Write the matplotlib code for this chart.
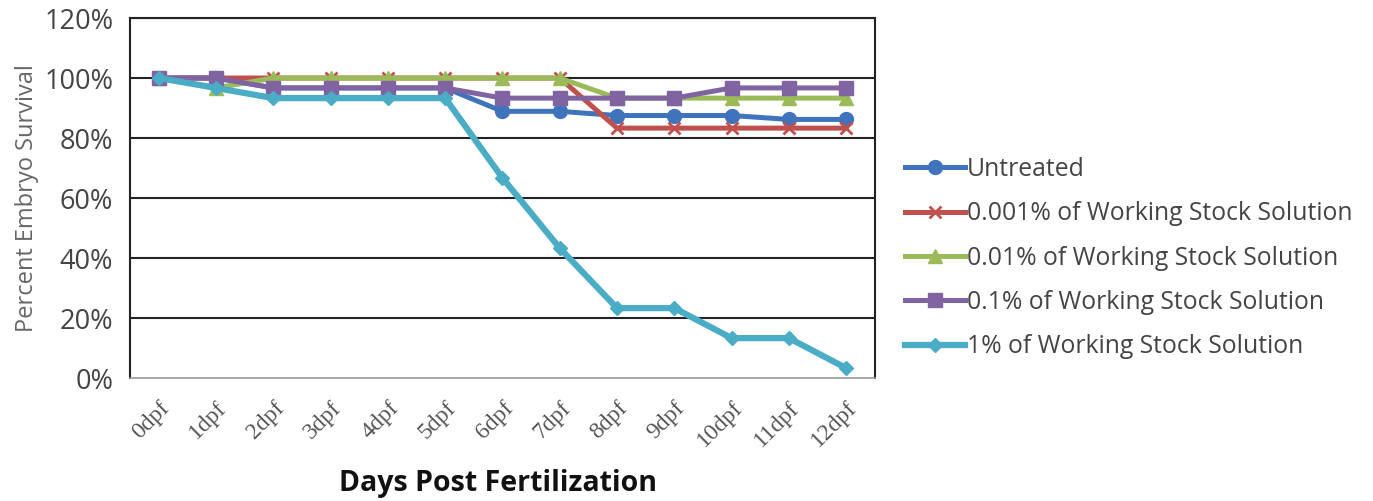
import matplotlib
matplotlib.use("Agg")
import matplotlib.pyplot as plt

categories = ["0dpf", "1dpf", "2dpf", "3dpf", "4dpf", "5dpf", "6dpf", "7dpf", "8dpf", "9dpf", "10dpf", "11dpf", "12dpf"]
untreated = [100, 100, 96.7, 96.7, 96.7, 96.7, 88.9, 88.9, 87.5, 87.5, 87.5, 86.2, 86.2]
s0001 = [100, 100, 100, 100, 100, 100, 100, 100, 83.3, 83.3, 83.3, 83.3, 83.3]
s001 = [100, 96.7, 100, 100, 100, 100, 100, 100, 93.3, 93.3, 93.3, 93.3, 93.3]
s01 = [100, 100, 96.7, 96.7, 96.7, 96.7, 93.3, 93.3, 93.3, 93.3, 96.7, 96.7, 96.7]
s1 = [100, 96.7, 93.3, 93.3, 93.3, 93.3, 66.7, 43.3, 23.3, 23.3, 13.3, 13.3, 3.3]
labels = ["Untreated", "0.001% of Working Stock Solution", "0.01% of Working Stock Solution",
          "0.1% of Working Stock Solution", "1% of Working Stock Solution"]
yticks = [0, 20, 40, 60, 80, 100, 120]

fig = plt.figure(figsize=(13.73, 5.01), dpi=100)
ax = fig.add_axes([0.0947, 0.2455, 0.5425, 0.7185])

x = list(range(len(categories)))
styles = [
    (untreated, "#3F74BD", "o", 10, 3.6),
    (s0001, "#C0504D", "x", 9, 3.6),
    (s001, "#9BBB59", "^", 10, 3.6),
    (s01, "#8064A2", "s", 10, 3.6),
    (s1, "#4BACC6", "D", 7, 4.5),
]
for (vals, col, mk, ms, lw), lab in zip(styles, labels):
    ax.plot(x, vals, color=col, marker=mk, markersize=ms, linewidth=lw, label=lab,
            markeredgecolor=col, markeredgewidth=2 if mk == "x" else 1, solid_joinstyle="round")

ax.set_xlim(-0.5, len(categories) - 0.5)
ax.set_ylim(0, 120)
ax.set_yticks(yticks)
ax.set_yticklabels([f"{v}%" for v in yticks], fontfamily="Open Sans", fontsize=19.5, color="#444444")
ax.set_xticks(x)
ax.set_xticklabels(categories, rotation=45, ha="right", rotation_mode="anchor",
                   fontfamily="Liberation Serif", fontsize=17, color="#555555")
ax.tick_params(axis="both", length=0)
ax.tick_params(axis="y", pad=12)
ax.tick_params(axis="x", pad=14)
for yv in yticks[1:]:
    ax.axhline(yv, color="#222222", linewidth=1.5, zorder=0)
for side in ["left", "right", "top"]:
    ax.spines[side].set_color("#222222")
    ax.spines[side].set_linewidth(1.5)
ax.spines["bottom"].set_color("#999999")
ax.spines["bottom"].set_linewidth(1.2)

ax.set_ylabel("Percent Embryo Survival", fontfamily="Open Sans", fontsize=17, color="#666666", labelpad=4)
fig.text(0.363, 0.005, "Days Post Fertilization", ha="center", va="bottom", fontfamily="Open Sans",
         fontweight="bold", fontsize=20.5, color="#111111")

leg = ax.legend(loc="center left", bbox_to_anchor=(1.011, 0.333), frameon=False,
                prop={"family": "Open Sans", "size": 17.8}, handlelength=2.4, handletextpad=0.1,
                labelspacing=0.78, labelcolor="#444444")

fig.savefig("out.png", dpi=100)
